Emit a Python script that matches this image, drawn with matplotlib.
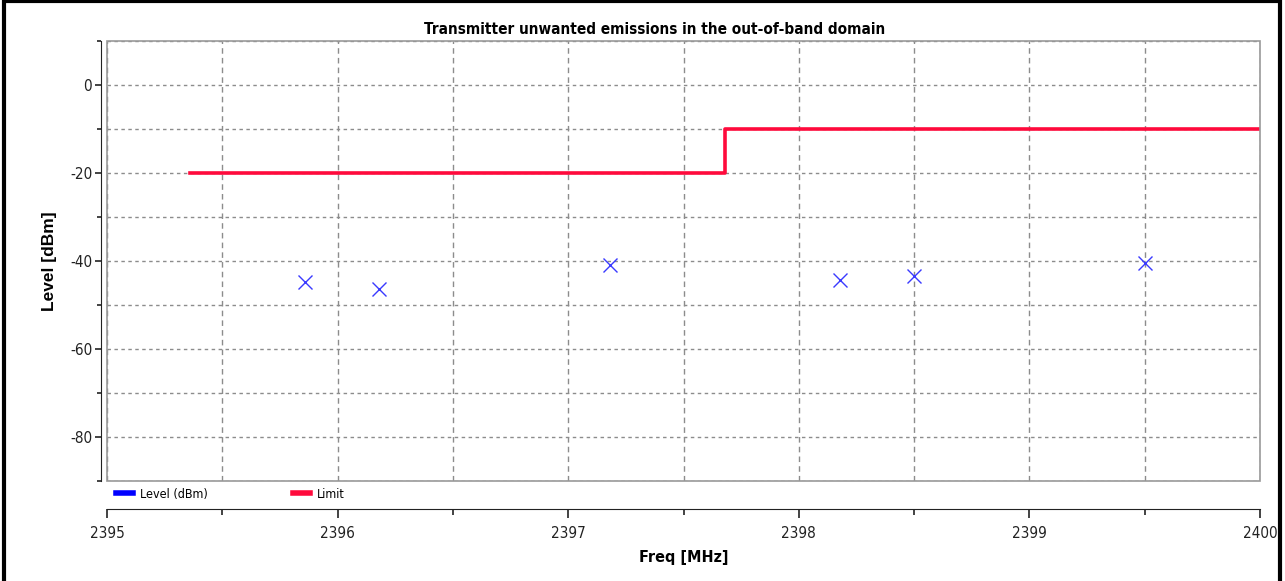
import matplotlib
matplotlib.use('Agg')
from matplotlib import pyplot as plt
from matplotlib.lines import Line2D
from matplotlib.patches import Rectangle
from matplotlib.ticker import MultipleLocator

plt.rcParams['font.family'] = ['Liberation Sans', 'DejaVu Sans']
plt.rcParams['axes.unicode_minus'] = False

# measured emissions
freq_mhz = [2395.86, 2396.18, 2397.18, 2398.18, 2398.50, 2399.50]
level_dbm = [-44.8, -46.3, -41.0, -44.4, -43.4, -40.4]

# limit mask (step)
limit_freq = [2395.36, 2397.68, 2397.68, 2400.0]
limit_dbm = [-20, -20, -10, -10]

W, H = 1285, 581
PX = 0.72  # points per pixel at 100 dpi
fig = plt.figure(figsize=(W / 100, H / 100), dpi=100)
ax = fig.add_axes([107 / W, 1 - 481 / H, (1260 - 107) / W, (481 - 41) / H])

ax.plot(freq_mhz, level_dbm, linestyle='none', marker='x', ms=10, mew=1.0,
        color='#3a3aff', zorder=3)
ax.plot(limit_freq, limit_dbm, color='#ff0a3c', lw=2.6, zorder=3)

ax.set_xlim(2395, 2400)
ax.set_ylim(-90, 10)

ax.xaxis.set_major_locator(MultipleLocator(1))
ax.xaxis.set_minor_locator(MultipleLocator(0.5))
ax.yaxis.set_major_locator(MultipleLocator(20))
ax.yaxis.set_minor_locator(MultipleLocator(10))
ax.xaxis.set_major_formatter(plt.FuncFormatter(lambda v, p: '%d' % v))

ax.grid(which='both', axis='x', color='#8c8c8c', lw=1, linestyle=(0, (4, 3)))
ax.grid(which='both', axis='y', color='#8c8c8c', lw=1, linestyle=(0, (2.5, 2.5)))

for s in ('top', 'right'):
    ax.spines[s].set_visible(False)
ax.spines['left'].set_position(('outward', 6 * PX))
ax.spines['bottom'].set_position(('outward', 28 * PX))
ax.spines['left'].set_color('#222222')
ax.spines['bottom'].set_color('#222222')

# plot area frame
ax.add_patch(Rectangle((0, 0), 1, 1, transform=ax.transAxes, fill=False,
                       edgecolor='#999999', lw=1.2, clip_on=False, zorder=4))

ax.tick_params(axis='y', which='major', length=6 * PX, width=1.2, labelsize=11,
               colors='#222222', pad=2)
ax.tick_params(axis='y', which='minor', length=4 * PX, width=1.2, colors='#222222')
ax.tick_params(axis='x', which='major', length=9 * PX, width=1.2, labelsize=11,
               colors='#222222', pad=6)
ax.tick_params(axis='x', which='minor', length=6 * PX, width=1.2, colors='#222222')
for lbl in ax.get_xticklabels() + ax.get_yticklabels():
    lbl.set_family('DejaVu Sans')
    lbl.set_stretch('condensed')

ax.set_title('Transmitter unwanted emissions in the out-of-band domain',
             fontsize=11, fontweight='bold', family='DejaVu Sans',
             fontstretch='condensed', x=0.475, pad=5)
ax.set_xlabel('Freq [MHz]', fontsize=11.5, fontweight='bold', family='DejaVu Sans',
              fontstretch='condensed', labelpad=6)
ax.set_ylabel('Level [dBm]', fontsize=12.5, fontweight='bold', labelpad=9)

handles = [Line2D([], [], color='#0000ff', lw=4),
           Line2D([], [], color='#ff0a3c', lw=4)]
ax.legend(handles, ['Level (dBm)', 'Limit'], loc='upper left',
          bbox_to_anchor=(0.0, 0.005), ncol=2, frameon=False,
          handlelength=1.4, handletextpad=0.55, columnspacing=6.8,
          borderpad=0.2, prop={'family': 'DejaVu Sans', 'stretch': 'condensed', 'size': 9})

# outer frame
fig.add_artist(Rectangle((4 / W, -0.02), (1280 - 4) / W, 1.02 - 1.5 / H,
                         transform=fig.transFigure, fill=False,
                         edgecolor='black', lw=3))

fig.savefig('out.png', dpi=100)
